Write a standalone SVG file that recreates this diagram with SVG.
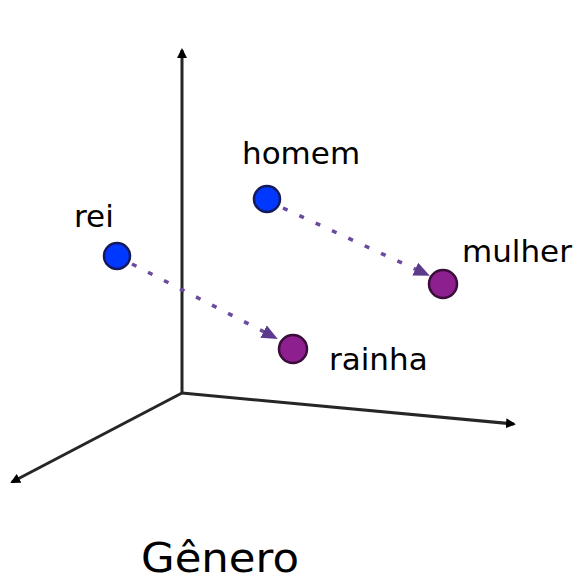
<svg xmlns="http://www.w3.org/2000/svg" width="579" height="583" viewBox="0 0 579 583">
<style>
.axis{stroke:#262626;stroke-width:3;fill:none}
.vec{stroke:#6a4a9c;stroke-width:3.5;stroke-dasharray:5 13;fill:none}
.blue{fill:#0038ff;stroke:#141a5a;stroke-width:2.5}
.purple{fill:#8e1f8e;stroke:#3a0d3a;stroke-width:2.5}
.lbl{font-family:"DejaVu Sans",sans-serif;font-size:31px;fill:#000}
.title{font-family:"DejaVu Sans",sans-serif;font-size:41px;fill:#000}
</style>
<defs>
<marker id="ah" markerWidth="10" markerHeight="10" refX="8" refY="5" orient="auto" markerUnits="userSpaceOnUse"><path d="M0,0 L10,5 L0,10 Z" fill="#000"/></marker>
<marker id="ap" markerWidth="16" markerHeight="14" refX="14" refY="7" orient="auto" markerUnits="userSpaceOnUse"><path d="M0,0 L16,7 L0,14 Z" fill="#5c3a8c"/></marker>
</defs>
<rect width="579" height="583" fill="#fff"/>
<g id="connectors">
<line class="axis" x1="182" y1="393" x2="182" y2="50" marker-end="url(#ah)"/>
<line class="axis" x1="182" y1="393" x2="514" y2="424" marker-end="url(#ah)"/>
<line class="axis" x1="182" y1="393" x2="12" y2="482" marker-end="url(#ah)"/>
<line class="vec" x1="132" y1="264" x2="276" y2="338" marker-end="url(#ap)"/>
<line class="vec" x1="283" y1="208" x2="428" y2="275" marker-end="url(#ap)"/>
</g>
<g id="rei"><circle class="blue" cx="117" cy="256" r="13"/><text class="lbl" x="74" y="227">rei</text></g>
<g id="homem"><circle class="blue" cx="267" cy="199" r="13"/><text class="lbl" x="242" y="164">homem</text></g>
<g id="mulher"><circle class="purple" cx="443" cy="284" r="14"/><text class="lbl" x="462" y="262">mulher</text></g>
<g id="rainha"><circle class="purple" cx="293" cy="349" r="14"/><text class="lbl" x="329" y="370">rainha</text></g>
<g id="genero"><text class="title" x="141" y="572" textLength="158" lengthAdjust="spacingAndGlyphs">Gênero</text></g>
</svg>
